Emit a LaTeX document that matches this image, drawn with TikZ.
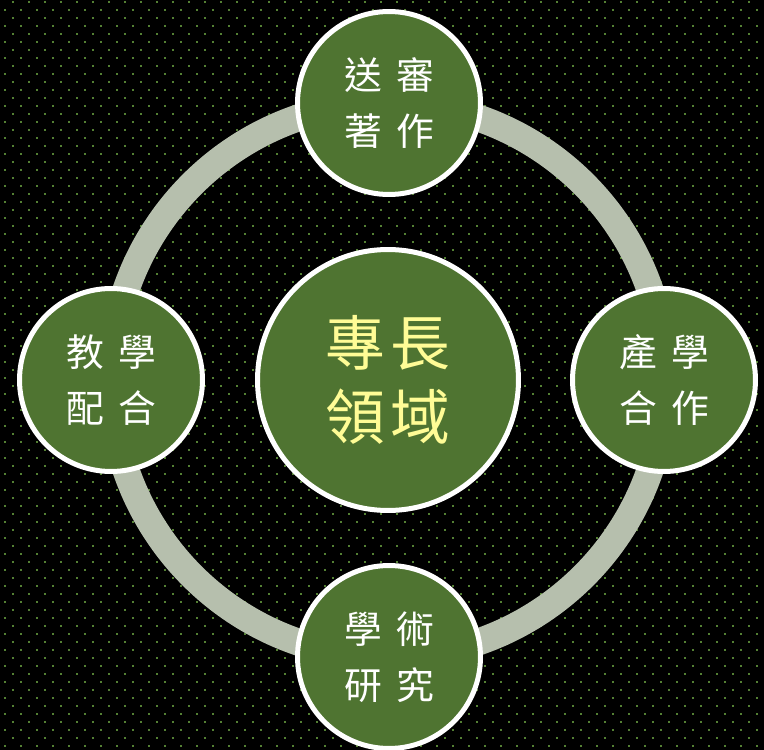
\documentclass[tikz,border=0pt]{standalone}
\usepackage{fontspec}
\usepackage{xcolor}
\usepackage{tikz}
\usetikzlibrary{positioning,calc}
\newfontfamily\cjk{Noto Sans CJK TC}
\definecolor{leaf}{RGB}{79,116,49}
\definecolor{speck}{RGB}{84,128,52}
\definecolor{ringgray}{RGB}{182,191,173}
\definecolor{hubtext}{RGB}{255,252,150}

\begin{document}
\begin{tikzpicture}[x=0.02cm,y=-0.02cm,
    dot/.style={fill=speck},
    ring/.style={draw=ringgray,line width=0.54cm},
    petal/.style={draw=white,line width=0.1cm,fill=leaf,circle,minimum size=3.66cm,
        inner sep=0pt,align=center,text=white,font=\cjk\fontsize{21.5}{31.8}\selectfont},
    hub/.style={petal,minimum size=5.22cm,text=hubtext,font=\cjk\fontsize{34}{42}\selectfont}]
    % background
    \useasboundingbox (0,0) rectangle (764,750);
    \fill[black] (0,0) rectangle (764,750);
    \foreach \y in {2,18,...,750} \foreach \x in {13,29,...,764}
        \fill[dot] (\x-1,\y-1) rectangle ++(2,2);
    \foreach \y in {10,26,...,750} \foreach \x in {5,21,...,764}
        \fill[dot] (\x-1,\y-1) rectangle ++(2,2);
    % ring
    \coordinate (mid) at (388,380);
    \draw[ring] (mid) circle (277);
    % center
    \node[hub] (field) at (mid) {專\hspace{0.08em}長\\領\hspace{0.08em}域};
    % outer
    \node[petal] (works) at (389,103) {送\hspace{0.38em}審\\著\hspace{0.38em}作};
    \node[petal] (teach) at (111,380) {教\hspace{0.38em}學\\配\hspace{0.38em}合};
    \node[petal] (coop) at (664,380) {產\hspace{0.38em}學\\合\hspace{0.38em}作};
    \node[petal] (study) at (389,657) {學\hspace{0.38em}術\\研\hspace{0.38em}究};
\end{tikzpicture}
\end{document}
